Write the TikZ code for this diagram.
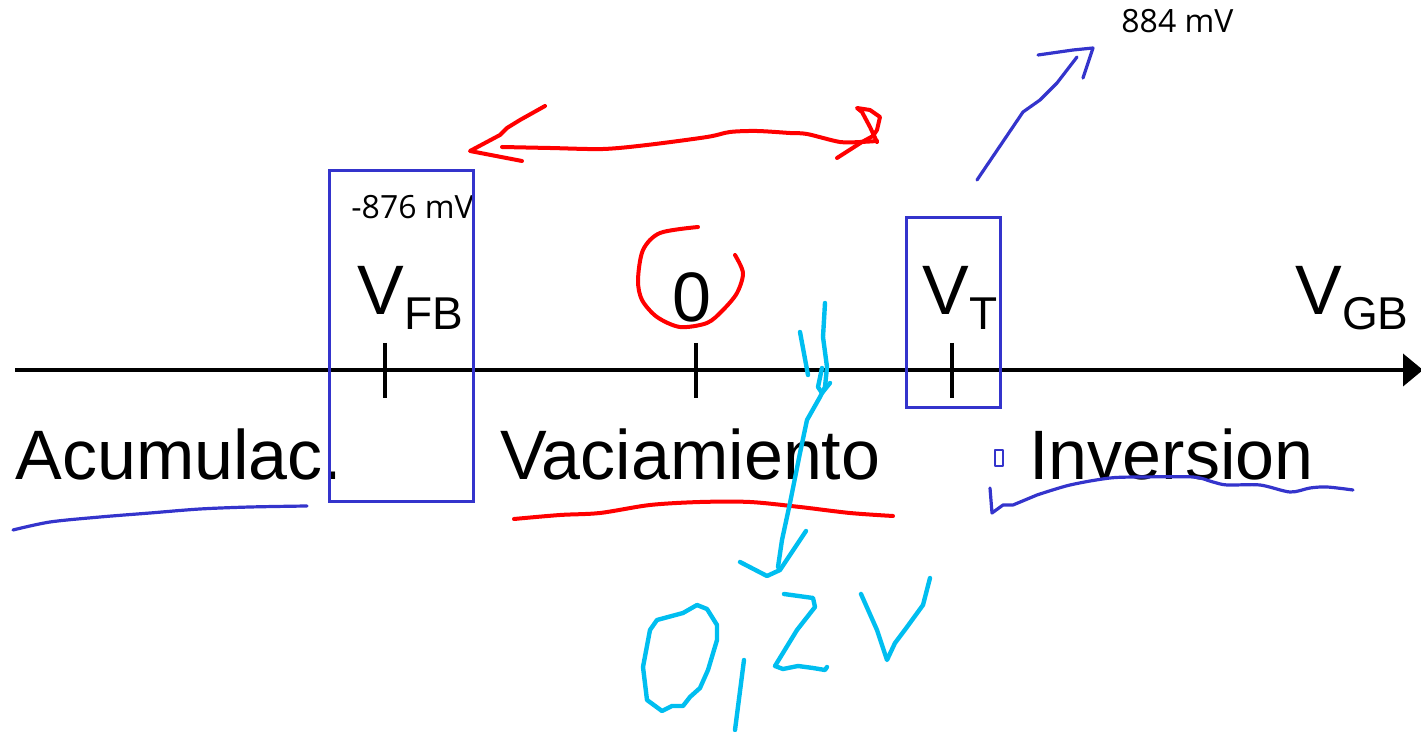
\documentclass[tikz,border=0pt]{standalone}
\usepackage{fontspec}
\setmainfont{Liberation Sans}
\newfontfamily\valfam{Open Sans}
\usetikzlibrary{arrows.meta}
\definecolor{penred}{RGB}{255,0,0}
\definecolor{penblue}{RGB}{52,52,204}
\definecolor{pencyan}{RGB}{0,190,240}
\newcommand{\axisfont}{\fontsize{35}{40}\selectfont}
\newcommand{\valfont}{\valfam\fontsize{16}{18}\selectfont}
\newcommand{\subs}[1]{\raisebox{-7.5pt}{\fontsize{23}{26}\selectfont #1}}
\tikzset{
  axislabel/.style={inner sep=0pt,anchor=base west,font=\axisfont},
  valuelabel/.style={inner sep=0pt,anchor=base west,font=\valfont},
  axisline/.style={line width=2pt,-{Triangle[length=10pt,width=16pt]}},
  tickmark/.style={line width=2pt},
  markbox/.style={draw=penblue,line width=1.5pt},
  redink/.style={draw=penred,line width=2pt,line cap=round,line join=round},
  blueink/.style={draw=penblue,line width=1.6pt,line cap=round,line join=round},
  cyanink/.style={draw=pencyan,line width=2.2pt,line cap=round,line join=round}
}

\begin{document}
\begin{tikzpicture}[x=0.5pt,y=-0.5pt]
  \useasboundingbox (0,0) rectangle (1421,732);

  % axis
  \coordinate (axstart) at (15,370);
  \coordinate (axend) at (1423,370);
  \draw[axisline] (axstart) -- (axend);
  \foreach \tx in {385,696,952}
    \draw[tickmark] (\tx,343) -- (\tx,398);

  % labels
  \node[axislabel] (vfb) at (357,315) {V\subs{FB}};
  \node[axislabel] (zero) at (672,322) {0};
  \node[axislabel] (vt) at (922,315) {V\subs{T}};
  \node[axislabel] (vgb) at (1295,315) {V\subs{GB}};
  \node[axislabel] (acum) at (15,480) {Acumulac.};
  \node[axislabel] (vac) at (500,480) {Vaciamiento};
  \node[axislabel] (inv) at (1029,480) {Inversion};
  \node[valuelabel] (mvfb) at (351,219) {-876 mV};
  \node[valuelabel] (mvt) at (1121,33) {884 mV};

  % boxes
  \draw[markbox] (329,171) rectangle (473,502);
  \draw[markbox] (906,218) rectangle (1000,408);
  \draw[blueink,line width=1pt] (995,450) rectangle (1003,466);

  % red ink
  \draw[redink] plot[smooth,tension=0.5] coordinates {(502,147) (550,148) (603,149) (647,145)
    (707,137) (730,132) (757,131) (790,133) (807,134) (840,142) (860,142) (877,141)};
  \draw[redink] (545,106) -- (520,120) -- (507,128) -- (500,135) -- (470,151) -- (522,161);
  \draw[redink] (837,158) -- (862,142) -- (873,136) -- (877,130) -- (880,117) -- (870,110)
    -- (857,108) -- (862,112) -- (870,127) -- (877,142);
  \draw[redink] plot[smooth,tension=0.5] coordinates {(698,227) (660,233) (643,250) (638,280)
    (642,300) (657,317) (680,327) (707,323) (723,310) (737,293) (743,273) (735,255)};
  \draw[redink] plot[smooth,tension=0.5] coordinates {(514,519) (560,515) (600,513) (650,505)
    (700,502) (750,502) (800,507) (850,513) (893,516)};

  % blue ink
  \draw[blueink] (977,180) -- (1023,112) -- (1040,100) -- (1057,83) -- (1077,57);
  \draw[blueink] (1038,55) -- (1073,50) -- (1093,48) -- (1083,78);
  \draw[blueink] plot[smooth,tension=0.5] coordinates {(13,530) (50,522) (100,517) (150,513)
    (200,509) (250,507) (307,506)};
  \draw[blueink] (990,488) -- (992,513) -- (1003,505) -- (1013,505)
    -- plot[smooth,tension=0.5] coordinates {(1037,495) (1070,485) (1110,478) (1143,477)
    (1193,477) (1213,482) (1227,485) (1260,485) (1290,492) (1310,488) (1327,487) (1353,490)};

  % cyan ink
  \draw[cyanink] (825,303) -- (823,337) -- (827,367) -- (825,387) -- (820,397) -- (807,420)
    -- (800,453) -- (790,503) -- (782,540) -- (778,567);
  \draw[cyanink] (822,368) -- (818,387) -- (822,393) -- (830,383);
  \draw[cyanink] (800,332) -- (808,375);
  \draw[cyanink] (740,562) -- (767,576) -- (780,570) -- (806,531);
  \draw[cyanink] (657,620) -- (683,613) -- (697,605) -- (707,609) -- (717,625) -- (717,640)
    -- (708,670) -- (700,688) -- (690,697) -- (683,706) -- (672,706) -- (662,711)
    -- (647,700) -- (643,667) -- (650,630) -- cycle;
  \draw[cyanink] (744,660) -- (735,730);
  \draw[cyanink] (784,594) -- (813,598) -- (815,607) -- (797,630) -- (775,666) -- (783,669)
    -- (798,666) -- (813,668) -- (825,670) -- (827,667);
  \draw[cyanink] (861,594) -- (877,630) -- (887,660) -- (895,643) -- (907,627) -- (923,605)
    -- (930,578);
\end{tikzpicture}
\end{document}
